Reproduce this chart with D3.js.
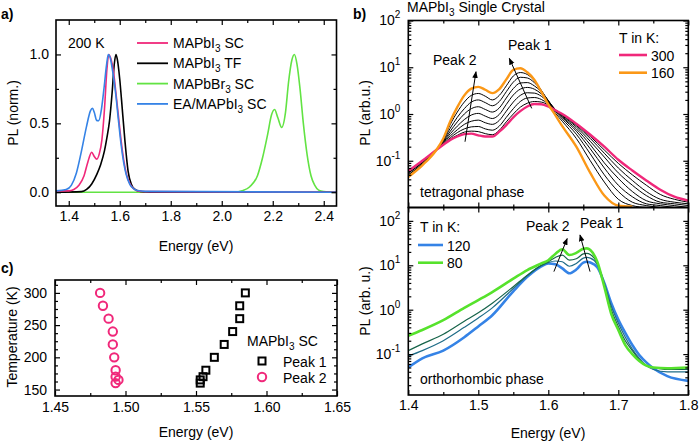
<!DOCTYPE html>
<html><head><meta charset="utf-8">
<script src="https://cdn.jsdelivr.net/npm/d3@7"></script>
<style>body{margin:0;background:#fff}</style>
</head><body>
<svg id="c" width="700" height="443"></svg>
<script>
// ---------------- DATA ----------------
// Panel a: normalized PL at 200 K  [energy eV, PL]
const aSC = [[1.35,0.01],[1.40,0.01],[1.42,0.02],[1.44,0.05],[1.46,0.12],[1.475,0.22],[1.49,0.29],[1.50,0.26],[1.51,0.24],[1.52,0.28],[1.53,0.38],[1.54,0.6],[1.55,0.9],[1.557,1.0],[1.565,0.97],[1.575,0.88],[1.585,0.72],[1.595,0.55],[1.605,0.38],[1.615,0.24],[1.625,0.14],[1.64,0.06],[1.655,0.025],[1.67,0.01],[1.70,0.004],[2.45,0.0]];
const aTF = [[1.35,0.0],[1.45,0.004],[1.47,0.02],[1.49,0.06],[1.51,0.13],[1.525,0.2],[1.54,0.3],[1.55,0.4],[1.56,0.52],[1.57,0.72],[1.578,0.92],[1.585,1.0],[1.59,0.97],[1.60,0.82],[1.607,0.67],[1.62,0.38],[1.633,0.15],[1.645,0.06],[1.66,0.02],[1.68,0.005],[1.72,0.0],[2.45,0.0]];
const aBr = [[1.35,0.0],[2.05,0.0],[2.08,0.01],[2.11,0.04],[2.14,0.12],[2.16,0.25],[2.18,0.42],[2.195,0.56],[2.207,0.6],[2.22,0.54],[2.235,0.47],[2.25,0.58],[2.262,0.8],[2.275,0.96],[2.285,1.0],[2.295,0.93],[2.307,0.75],[2.32,0.5],[2.335,0.27],[2.35,0.12],[2.365,0.05],[2.38,0.015],[2.40,0.005],[2.45,0.0]];
const aEA = [[1.35,0.01],[1.39,0.02],[1.41,0.05],[1.43,0.14],[1.45,0.3],[1.47,0.48],[1.485,0.59],[1.493,0.61],[1.50,0.58],[1.51,0.52],[1.518,0.52],[1.528,0.6],[1.538,0.75],[1.548,0.92],[1.555,1.0],[1.562,0.98],[1.572,0.88],[1.585,0.7],[1.595,0.52],[1.605,0.35],[1.615,0.22],[1.625,0.13],[1.64,0.055],[1.655,0.025],[1.67,0.012],[1.70,0.006],[2.45,0.0]];
const aNames = ["MAPbI3 SC","MAPbI3 TF","MAPbBr3 SC","EA/MAPbI3 SC"];

// Panel b (top, tetragonal): energy grid and PL (arb. u.) per temperature
const bE = [1.40,1.42,1.44,1.45,1.46,1.47,1.48,1.49,1.50,1.51,1.52,1.53,1.54,1.55,1.56,1.57,1.58,1.59,1.60,1.61,1.62,1.64,1.66,1.68,1.70,1.72,1.74,1.76,1.78,1.80];
const b300 = [0.06,0.1,0.17,0.22,0.28,0.33,0.37,0.38,0.35,0.33,0.33,0.42,0.58,0.85,1.15,1.45,1.64,1.62,1.45,1.2,1.0,0.62,0.36,0.2,0.105,0.062,0.038,0.024,0.017,0.014];
const b280 = [0.06,0.1,0.17,0.22,0.29,0.35,0.41,0.43,0.42,0.38,0.36,0.45,0.68,1.0,1.4,1.7,1.85,1.8,1.55,1.22,0.97,0.6,0.33,0.17,0.088,0.05,0.03,0.019,0.015,0.013];
const b260 = [0.06,0.095,0.17,0.23,0.31,0.4,0.48,0.53,0.54,0.48,0.45,0.55,0.85,1.3,1.85,2.2,2.25,2.05,1.65,1.25,0.95,0.57,0.3,0.145,0.07,0.038,0.022,0.015,0.013,0.012];
const b240 = [0.06,0.095,0.17,0.24,0.34,0.46,0.6,0.7,0.74,0.65,0.6,0.73,1.15,1.8,2.5,2.85,2.8,2.4,1.8,1.25,0.92,0.53,0.26,0.12,0.055,0.03,0.018,0.013,0.012,0.011];
const b220 = [0.055,0.09,0.17,0.25,0.38,0.55,0.76,0.95,1.03,0.9,0.8,0.98,1.6,2.55,3.4,3.7,3.4,2.7,1.9,1.25,0.88,0.48,0.22,0.09,0.042,0.022,0.014,0.012,0.011,0.01];
const b200 = [0.055,0.09,0.17,0.26,0.43,0.68,1.0,1.3,1.43,1.25,1.1,1.35,2.2,3.5,4.6,4.7,4.0,3.0,1.95,1.2,0.84,0.43,0.18,0.07,0.03,0.017,0.012,0.011,0.01,null];
const b180 = [0.05,0.085,0.17,0.27,0.5,0.85,1.3,1.8,2.0,1.75,1.5,1.85,3.0,4.8,6.1,5.9,4.7,3.2,1.9,1.15,0.78,0.37,0.14,0.05,0.022,0.013,0.011,0.01,null,null];
const b170 = [0.05,0.085,0.17,0.28,0.6,1.1,1.8,2.5,2.75,2.4,2.0,2.5,4.0,6.5,7.7,7.0,5.2,3.2,1.8,1.05,0.7,0.3,0.1,0.035,0.015,0.011,0.01,null,null,null];
const b160 = [0.045,0.08,0.17,0.3,0.7,1.4,2.5,3.5,3.8,3.3,2.8,3.4,5.5,8.8,9.5,7.8,5.4,3.0,1.6,0.95,0.55,0.2,0.055,0.018,0.011,0.0105,null,null,null,null];
const bBlackT = [280,260,240,220,200,180,170];

// Panel b (bottom, orthorhombic)
const lE = [1.40,1.42,1.45,1.48,1.50,1.52,1.55,1.57,1.59,1.60,1.61,1.62,1.63,1.64,1.65,1.655,1.66,1.67,1.68,1.69,1.70,1.71,1.72,1.73,1.74,1.75,1.77,1.80];
const l120 = [0.05,0.08,0.12,0.24,0.42,0.75,2.6,5.5,9.5,11,10.5,8.5,6.6,8.0,11.5,12,11.5,9,4.0,1.4,0.6,0.3,0.16,0.095,0.065,0.048,0.032,0.025];
const l100 = [0.09,0.12,0.2,0.4,0.65,1.1,3.0,5.8,9.8,11.5,12.5,12,9.5,11,14.5,15,14.5,10.5,4.0,1.2,0.5,0.24,0.13,0.08,0.055,0.045,0.04,0.04];
const l90  = [0.12,0.17,0.28,0.55,0.85,1.4,3.3,6.0,10,12,15,17,13,14,18,18.5,17.5,11,3.6,1.0,0.42,0.2,0.12,0.075,0.055,0.05,0.045,0.045];
const l80  = [0.26,0.35,0.58,1.1,1.65,2.5,5.0,7.8,11,13,18,23,17,19,23.5,24,22,12,3.3,0.8,0.35,0.16,0.1,0.07,0.055,0.05,0.048,0.05];

// Panel c: peak positions vs temperature
const cT  = [300,280,260,240,220,200,180,170,165,160];
const cP1 = [1.585,1.581,1.581,1.576,1.570,1.563,1.557,1.555,1.553,1.553];
const cP2 = [1.482,1.484,1.488,1.491,1.491,1.492,1.493,1.493,1.495,1.493];

// ---------------- DRAW ----------------
const F = 'Arial, "Liberation Sans", Helvetica, sans-serif';
const svg = d3.select('#c');
svg.append('rect').attr('width',700).attr('height',443).attr('fill','#fff');
const defs = svg.append('defs');
defs.append('marker').attr('id','arr').attr('viewBox','0 0 10 10').attr('refX',9).attr('refY',5)
  .attr('markerWidth',7).attr('markerHeight',7).attr('orient','auto').attr('markerUnits','userSpaceOnUse')
  .append('path').attr('d','M0,1L10,5L0,9z').attr('fill','#000');

const PINK='#f0287a', ORANGE='#fb9817', BLACK='#000', GREENA='#62e343', BLUE='#3583e6', GREEN='#56e22c', DKG='#17644a', TEAL='#1f6c87';

function axis(g, scale, side, at, vals, len, fmt, pad){
  const gen = side==='left'?d3.axisLeft(scale):side==='right'?d3.axisRight(scale):side==='top'?d3.axisTop(scale):d3.axisBottom(scale);
  gen.tickValues(vals).tickSizeInner(-len).tickSizeOuter(0).tickPadding(pad||5).tickFormat(fmt||(()=>''));
  const tr = (side==='left'||side==='right')?`translate(${at},0)`:`translate(0,${at})`;
  const a = g.append('g').attr('transform',tr).call(gen);
  a.select('.domain').remove();
  a.selectAll('line').attr('stroke','#000').attr('stroke-width',1.2);
  a.selectAll('text').attr('font-family',F).attr('font-size',14).attr('fill','#000');
  return a;
}
function frame(g,x0,y0,x1,y1){
  g.append('rect').attr('x',x0).attr('y',y0).attr('width',x1-x0).attr('height',y1-y0)
   .attr('fill','none').attr('stroke','#000').attr('stroke-width',1.6);
}
function rich(g,x,y,parts,anchor,size){
  const t=g.append('text').attr('x',x).attr('y',y).attr('font-family',F).attr('font-size',size||14)
    .attr('text-anchor',anchor||'start').attr('fill','#000');
  let shift=0;
  parts.forEach(p=>{
    if(typeof p==='string'){ t.append('tspan').attr('dy',-shift).text(p); shift=0; }
    else { t.append('tspan').attr('dy',4-shift).attr('font-size',10).text(p.sub); shift=4; }
  });
  return t;
}
function clip(id,x0,y0,x1,y1){
  defs.append('clipPath').attr('id',id).append('rect').attr('x',x0).attr('y',y0).attr('width',x1-x0).attr('height',y1-y0);
}
function supLabels(a){
  a.selectAll('text').each(function(d){
    const t=d3.select(this); t.text('');
    t.append('tspan').text('10');
    t.append('tspan').attr('dy',-7).attr('font-size',10).text(Math.round(Math.log10(d)));
  });
}

// ===== Panel a =====
{
  const X0=56,X1=336.5,Y0=20,Y1=206;
  const x=d3.scaleLinear([1.35,2.45],[X0,X1]);
  const y=d3.scaleLinear([-0.1,1.25],[Y1,Y0]);
  const g=svg.append('g');
  clip('ca',X0,Y0,X1,Y1);
  const line=d3.line().x(d=>x(d[0])).y(d=>y(d[1])).curve(d3.curveMonotoneX);
  const pg=g.append('g').attr('clip-path','url(#ca)');
  [[aBr,GREENA],[aTF,BLACK],[aSC,PINK],[aEA,BLUE]].forEach(([d,c])=>{
    pg.append('path').datum(d).attr('d',line).attr('fill','none').attr('stroke',c).attr('stroke-width',1.6);
  });
  const xm=[1.4,1.6,1.8,2.0,2.2,2.4], xn=[1.5,1.7,1.9,2.1,2.3];
  const ym=[0,0.5,1.0], yn=[0.25,0.75];
  axis(g,x,'bottom',Y1,xm,5,d3.format('.1f'),5);
  axis(g,x,'bottom',Y1,xn,3);
  axis(g,x,'top',Y0,xm,5); axis(g,x,'top',Y0,xn,3);
  axis(g,y,'left',X0,ym,5,d3.format('.1f'),7);
  axis(g,y,'left',X0,yn,3);
  axis(g,y,'right',X1,ym,5); axis(g,y,'right',X1,yn,3);
  frame(g,X0,Y0,X1,Y1);
  g.append('text').attr('x',1).attr('y',19).attr('font-family',F).attr('font-size',14).attr('font-weight','bold').text('a)');
  g.append('text').attr('x',68).attr('y',48).attr('font-family',F).attr('font-size',14).text('200 K');
  const leg=[[['MAPbI',{sub:'3'},' SC'],PINK],[['MAPbI',{sub:'3'},' TF'],BLACK],[['MAPbBr',{sub:'3'},' SC'],GREENA],[['EA/MAPbI',{sub:'3'},' SC'],BLUE]];
  leg.forEach(([p,c],i)=>{
    const yy=43+i*20.3;
    g.append('line').attr('x1',137).attr('x2',168).attr('y1',yy).attr('y2',yy).attr('stroke',c).attr('stroke-width',1.8);
    rich(g,173,yy+5,p);
  });
  g.append('text').attr('transform','translate(18,113) rotate(-90)').attr('text-anchor','middle')
   .attr('font-family',F).attr('font-size',14).text('PL (norm.)');
  g.append('text').attr('x',196).attr('y',251).attr('text-anchor','middle').attr('font-family',F).attr('font-size',14).text('Energy (eV)');
}

// ===== Panel b =====
{
  const X0=408.3,X1=688.3,YT=20.5,YM=207.5,YB=395;
  const x=d3.scaleLinear([1.4,1.8],[X0,X1]);
  const yt=d3.scaleLog([0.01,100],[YM,YT]);
  const yb=d3.scaleLog([0.012,200],[YB,YM]);
  const g=svg.append('g');
  clip('cbt',X0,YT,X1,YM); clip('cbb',X0,YM,X1,YB);
  // top curves
  const lt=d3.line().defined(d=>d[1]!=null).x(d=>x(d[0])).y(d=>yt(d[1])).curve(d3.curveMonotoneX);
  const pt=g.append('g').attr('clip-path','url(#cbt)');
  [b280,b260,b240,b220,b200,b180,b170].forEach(s=>{
    pt.append('path').datum(bE.map((e,i)=>[e,s[i]])).attr('d',lt).attr('fill','none').attr('stroke','#000').attr('stroke-width',1);
  });
  pt.append('path').datum(bE.map((e,i)=>[e,b300[i]])).attr('d',lt).attr('fill','none').attr('stroke',PINK).attr('stroke-width',2.4);
  pt.append('path').datum(bE.map((e,i)=>[e,b160[i]])).attr('d',lt).attr('fill','none').attr('stroke',ORANGE).attr('stroke-width',2.4);
  // bottom curves
  const lb=d3.line().x(d=>x(d[0])).y(d=>yb(d[1])).curve(d3.curveMonotoneX);
  const pb=g.append('g').attr('clip-path','url(#cbb)');
  [[l120,BLUE,2.6],[l100,TEAL,1.2],[l90,DKG,1.2],[l80,GREEN,2.6]].forEach(([s,c,w])=>{
    pb.append('path').datum(lE.map((e,i)=>[e,s[i]])).attr('d',lb).attr('fill','none').attr('stroke',c).attr('stroke-width',w);
  });
  // axes
  const xm=[1.4,1.5,1.6,1.7,1.8], xn=[1.45,1.55,1.65,1.75];
  axis(g,x,'bottom',YB,xm,5,d3.format('.1f'),5); axis(g,x,'bottom',YB,xn,3);
  axis(g,x,'top',YM,xm,5); axis(g,x,'top',YM,xn,3);
  axis(g,x,'bottom',YM,xm,5); axis(g,x,'bottom',YM,xn,3);
  axis(g,x,'top',YT,xm,5); axis(g,x,'top',YT,xn,3);
  const minorT=[], minorB=[];
  [-2,-1,0,1].forEach(p=>{for(let m=2;m<=9;m++){const v=m*Math.pow(10,p); minorT.push(v); if(v>0.012&&v<200) minorB.push(v);}});
  const majT=[0.1,1,10,100], majB=[0.1,1,10,100];
  supLabels(axis(g,yt,'left',X0,majT,5,()=>'',8));
  axis(g,yt,'left',X0,minorT,3); axis(g,yt,'right',X1,majT,5); axis(g,yt,'right',X1,minorT,3);
  supLabels(axis(g,yb,'left',X0,majB,5,()=>'',8));
  axis(g,yb,'left',X0,minorB,3); axis(g,yb,'right',X1,majB,5); axis(g,yb,'right',X1,minorB,3);
  frame(g,X0,YT,X1,YM); frame(g,X0,YM,X1,YB);
  g.append('text').attr('x',353).attr('y',19).attr('font-family',F).attr('font-size',14).attr('font-weight','bold').text('b)');
  rich(g,407,12,['MAPbI',{sub:'3'},' Single Crystal']);
  g.append('text').attr('transform','translate(370,113) rotate(-90)').attr('text-anchor','middle').attr('font-family',F).attr('font-size',14).text('PL (arb.u.)');
  g.append('text').attr('transform','translate(370,301) rotate(-90)').attr('text-anchor','middle').attr('font-family',F).attr('font-size',14).text('PL (arb. u.)');
  g.append('text').attr('x',548).attr('y',438).attr('text-anchor','middle').attr('font-family',F).attr('font-size',14).text('Energy (eV)');
  const T=(xx,yy,s)=>g.append('text').attr('x',xx).attr('y',yy).attr('font-family',F).attr('font-size',14).text(s);
  T(433,65,'Peak 2'); T(508,50,'Peak 1'); T(420,197,'tetragonal phase');
  T(619,43,'T in K:');
  [['300',PINK,55],['160',ORANGE,72.7]].forEach(([s,c,yy])=>{
    g.append('line').attr('x1',619).attr('x2',647).attr('y1',yy).attr('y2',yy).attr('stroke',c).attr('stroke-width',2.6);
    T(651,yy+5.5,s);
  });
  T(526,231,'Peak 2'); T(580,228,'Peak 1'); T(420,384,'orthorhombic phase');
  T(420,232,'T in K:');
  [['120',BLUE,245],['80',GREEN,262.7]].forEach(([s,c,yy])=>{
    g.append('line').attr('x1',418).attr('x2',443).attr('y1',yy).attr('y2',yy).attr('stroke',c).attr('stroke-width',2.6);
    T(447,yy+5.5,s);
  });
  const arrow=(sc,a,b)=>g.append('line').attr('x1',x(a[0])).attr('y1',sc(a[1])).attr('x2',x(b[0])).attr('y2',sc(b[1]))
     .attr('stroke','#000').attr('stroke-width',1).attr('marker-end','url(#arr)');
  arrow(yt,[1.481,0.255],[1.4967,8.0]);
  arrow(yt,[1.5763,1.32],[1.5443,15.5]);
  arrow(yb,[1.608,7.2],[1.627,40]);
  arrow(yb,[1.6596,7.2],[1.6453,48]);
}

// ===== Panel c =====
{
  const X0=55,X1=337,Y0=280,Y1=396;
  const x=d3.scaleLinear([1.45,1.65],[X0,X1]);
  const y=d3.scaleLinear([140,320],[Y1,Y0]);
  const g=svg.append('g');
  const xm=[1.45,1.50,1.55,1.60,1.65], xn=[1.475,1.525,1.575,1.625];
  const ym=[150,200,250,300], yn=[162.5,175,187.5,212.5,225,237.5,262.5,275,287.5,312.5];
  axis(g,x,'bottom',Y1,xm,5,d3.format('.2f'),6); axis(g,x,'bottom',Y1,xn,3);
  axis(g,x,'top',Y0,xm,5); axis(g,x,'top',Y0,xn,3);
  axis(g,y,'left',X0,ym,5,d3.format('d'),8); axis(g,y,'left',X0,yn,3);
  axis(g,y,'right',X1,ym,5); axis(g,y,'right',X1,yn,3);
  frame(g,X0,Y0,X1,Y1);
  const sq=(xx,yy)=>g.append('rect').attr('x',xx-3.5).attr('y',yy-3.5).attr('width',7).attr('height',7).attr('fill','none').attr('stroke','#000').attr('stroke-width',2);
  const ci=(xx,yy)=>g.append('circle').attr('cx',xx).attr('cy',yy).attr('r',4.2).attr('fill','none').attr('stroke',PINK).attr('stroke-width',2);
  cT.forEach((t,i)=>{ sq(x(cP1[i]),y(t)); ci(x(cP2[i]),y(t)); });
  g.append('text').attr('x',1).attr('y',273).attr('font-family',F).attr('font-size',14).attr('font-weight','bold').text('c)');
  rich(g,247,346,['MAPbI',{sub:'3'},' SC']);
  sq(262,361); ci(262,377);
  g.append('text').attr('x',283).attr('y',366.5).attr('font-family',F).attr('font-size',14).text('Peak 1');
  g.append('text').attr('x',283).attr('y',382.5).attr('font-family',F).attr('font-size',14).text('Peak 2');
  g.append('text').attr('transform','translate(17,337) rotate(-90)').attr('text-anchor','middle').attr('font-family',F).attr('font-size',14).text('Temperature (K)');
  g.append('text').attr('x',196).attr('y',437).attr('text-anchor','middle').attr('font-family',F).attr('font-size',14).text('Energy (eV)');
}
</script>
</body></html>
